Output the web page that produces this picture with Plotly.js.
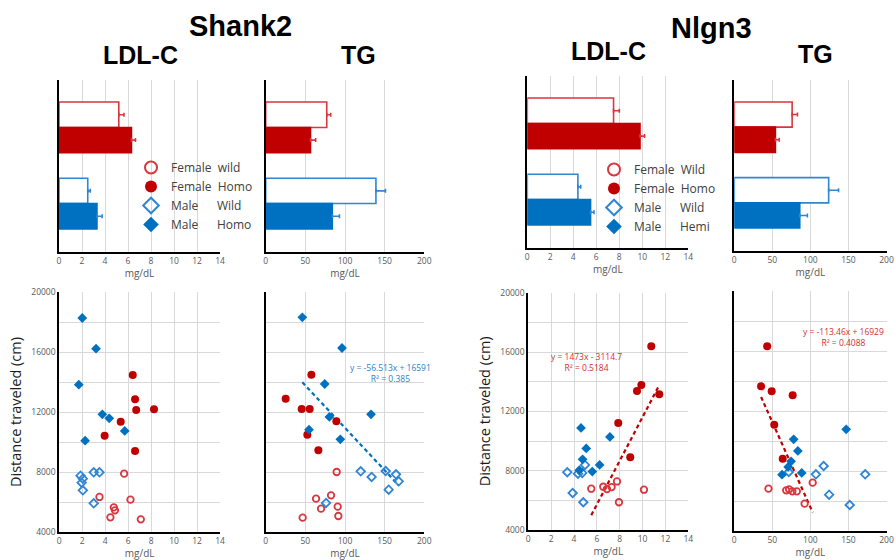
<!DOCTYPE html>
<html><head><meta charset="utf-8">
<script src="https://cdn.plot.ly/plotly-3.0.1.min.js"></script>
<style>html,body{margin:0;padding:0;background:#fff}</style>
</head><body>
<div id="chart" style="width:895px;height:560px"></div>
<script>
// ---------------- data ----------------
const shank2Groups = ['Female wild', 'Female Homo', 'Male Wild', 'Male Homo'];
const nlgn3Groups  = ['Female Wild', 'Female Homo', 'Male Wild', 'Male Hemi'];

// bar means and SEM (mg/dL), order = groups
const shank2LdlMean = [5.2, 6.3, 2.5, 3.3];
const shank2LdlErr  = [0.45, 0.35, 0.22, 0.45];
const shank2TgMean  = [77, 56.5, 139, 84];
const shank2TgErr   = [5, 6.5, 12, 9];
const nlgn3LdlMean  = [7.5, 9.8, 4.4, 5.5];
const nlgn3LdlErr   = [0.5, 0.4, 0.25, 0.3];
const nlgn3TgMean   = [76, 54, 124, 86];
const nlgn3TgErr    = [7, 5, 13, 10];

// Shank2 LDL-C vs distance
const s2LdlFwX = [5.65, 3.5, 6.2, 4.75, 4.85, 4.45, 7.1];
const s2LdlFwY = [7890, 6335, 6157, 5646, 5446, 4979, 4845];
const s2LdlFhX = [6.4, 6.6, 6.7, 8.25, 5.35, 3.95, 6.6];
const s2LdlFhY = [14467, 12845, 12134, 12178, 11356, 10423, 9401];
const s2LdlMwX = [1.85, 2.05, 3.0, 3.5, 1.95, 2.05, 3.0];
const s2LdlMwY = [7757, 7557, 7979, 7979, 7290, 6779, 5913];
const s2LdlMhX = [2.0, 3.2, 1.7, 3.75, 4.35, 5.7, 2.25];
const s2LdlMhY = [18267, 16223, 13823, 11845, 11578, 10734, 10090];

// Shank2 TG vs distance
const s2TgFwX = [89.5, 82.4, 63.5, 69.8, 90.8, 91.6, 46.6];
const s2TgFwY = [8000, 6445, 6224, 5557, 5690, 5068, 4957];
const s2TgFhX = [57.6, 25.2, 45.4, 55.5, 89.1, 52.5, 66.4];
const s2TgFhY = [14489, 12890, 12201, 12201, 11379, 10490, 9445];
const s2TgMwX = [119.8, 133.6, 151.3, 164.3, 167.7, 155.1, 76.1];
const s2TgMwY = [8045, 7668, 8067, 7845, 7379, 6824, 5935];
const s2TgMhX = [46.2, 96.2, 74.4, 80.3, 132.8, 54.6, 94.1];
const s2TgMhY = [18311, 16267, 13867, 11667, 11845, 10823, 10179];

// Nlgn3 LDL-C vs distance
const n3LdlFwX = [5.51, 6.56, 6.88, 7.29, 7.76, 7.93, 10.12];
const n3LdlFwY = [6783, 6917, 6761, 6894, 7273, 5871, 6717];
const n3LdlFhX = [10.76, 9.51, 9.89, 11.46, 7.87, 8.92];
const n3LdlFhY = [16396, 13370, 13770, 13147, 11211, 8897];
const n3LdlMwX = [3.41, 4.96, 4.72, 3.88, 4.81, 4.35];
const n3LdlMwY = [7896, 8386, 7850, 6494, 5871, 7800];
const n3LdlMhX = [4.61, 7.14, 5.07, 4.75, 6.24, 4.46, 5.60];
const n3LdlMhY = [10878, 10277, 9498, 8764, 8386, 8030, 7940];

// Nlgn3 TG vs distance
const n3TgFwX = [44.9, 68.2, 72.0, 76.3, 82.2, 103.0, 92.4];
const n3TgFwY = [6823, 6712, 6778, 6645, 6645, 7223, 5823];
const n3TgFhX = [43.2, 35.2, 49.1, 76.7, 52.5, 63.6];
const n3TgFhY = [16311, 13645, 13311, 13045, 11089, 8823];
const n3TgMwX = [117.4, 107.2, 172.0, 124.6, 151.7, 71.6];
const n3TgMwY = [8334, 7778, 7778, 6423, 5734, 7934];
const n3TgMhX = [147.0, 78.0, 83.5, 74.6, 70.8, 62.7, 88.6];
const n3TgMhY = [10778, 10112, 9334, 8645, 8267, 7756, 7867];

// linear trendlines shown in the figure: [slope, intercept]
const s2TgMaleTrend   = [-56.513, 16591];
const n3LdlFemaleTrend = [1473, -3114.7];
const n3TgFemaleTrend  = [-113.46, 16929];
const s2TgTrendText  = ['y = -56.513x + 16591', 'R² = 0.385'];
const n3LdlTrendText = ['y = 1473x - 3114.7', 'R² = 0.5184'];
const n3TgTrendText  = ['y = -113.46x + 16929', 'R² = 0.4088'];

const ldlTicks = [0, 2, 4, 6, 8, 10, 12, 14];
const tgTicks = [0, 50, 100, 150, 200];
const distTicks = [4000, 8000, 12000, 16000, 20000];

// ---------------- styling / layout helpers ----------------
const W = 895, H = 560;
const RED = '#C00000', BLUE = '#0070C0';
const RED_LIGHT = '#D9363E', BLUE_LIGHT = '#2E86D4';
const FONT = 'Open Sans, Noto Sans, sans-serif';
const TFONT = 'Liberation Sans, Arial, sans-serif';
const px = v => v / W;
const py = v => 1 - v / H;
const dx = (a, b) => [px(a), px(b)];
const dy = (top, bot) => [py(bot), py(top)];

// panel pixel boxes [left, right, top, bottom]
const boxes = {
  1: [59, 220, 80, 252], 2: [265.7, 424.3, 80, 252],
  3: [527.3, 688.3, 76, 248], 4: [734.3, 886.5, 80, 251],
  5: [59.3, 220, 292, 532], 6: [265.7, 424.3, 292, 532],
  7: [528.3, 688.3, 292.7, 530], 8: [734.3, 886.5, 291, 531]
};
// vertical slots of the bars (top to bottom, gap between sexes)
const slotOf = i => (i < 2 ? 4 - i : 3 - i);

const traces = [];

function barPanel(n, groups, means, errs) {
  const ax = n === 1 ? '' : String(n);
  const slots = groups.map((g, i) => slotOf(i));
  [[0, 1, RED, RED_LIGHT], [2, 3, BLUE, BLUE_LIGHT]].forEach(([a, b, c, cl]) => {
    traces.push({
      type: 'bar', orientation: 'h',
      x: [means[a], means[b]], y: [slots[a], slots[b]],
      width: 1, text: [groups[a], groups[b]], hoverinfo: 'text+x',
      textposition: 'none',
      marker: { color: ['#ffffff', c], line: { color: [cl, c], width: 1.6 } },
      error_x: { type: 'data', symmetric: false, array: [errs[a], errs[b]], arrayminus: [0, 0],
                 color: cl, thickness: 1.6, width: 2 },
      xaxis: 'x' + ax, yaxis: 'y' + ax, showlegend: false
    });
  });
}
barPanel(1, shank2Groups, shank2LdlMean, shank2LdlErr);
barPanel(2, shank2Groups, shank2TgMean, shank2TgErr);
barPanel(3, nlgn3Groups, nlgn3LdlMean, nlgn3LdlErr);
barPanel(4, nlgn3Groups, nlgn3TgMean, nlgn3TgErr);

const markerStyles = [
  { symbol: 'circle-open', size: 6.5, color: RED_LIGHT, line: { width: 1.8, color: RED_LIGHT } },
  { symbol: 'circle', size: 8, color: RED, line: { width: 0 } },
  { symbol: 'diamond-open', size: 6.5, color: BLUE_LIGHT, line: { width: 1.8, color: BLUE_LIGHT } },
  { symbol: 'diamond', size: 7.5, color: BLUE, line: { width: 0 } }
];
function legendLabel(name) {
  const parts = name.split(' ');
  const pad = 2 + (6 - parts[0].length) * 2;
  return parts[0] + '\u00A0'.repeat(pad) + parts[1];
}
function trendTrace(n, coef, xs, color) {
  const ax = String(n);
  const all = [].concat(...xs);
  const lo = Math.min(...all), hi = Math.max(...all);
  traces.push({
    type: 'scatter', mode: 'lines', x: [lo, hi], y: [coef[0] * lo + coef[1], coef[0] * hi + coef[1]],
    line: { color: color, width: 2.2, dash: '4px,3px' }, hoverinfo: 'skip',
    xaxis: 'x' + ax, yaxis: 'y' + ax, showlegend: false
  });
}
function scatterPanel(n, groups, xs, ys, legendId) {
  const ax = String(n);
  groups.forEach((g, i) => {
    traces.push({
      type: 'scatter', mode: 'markers', x: xs[i], y: ys[i], name: legendLabel(g),
      marker: markerStyles[i], xaxis: 'x' + ax, yaxis: 'y' + ax,
      legendgroup: legendId + g, showlegend: !!legendId, legend: legendId || 'legend'
    });
  });
}
scatterPanel(5, shank2Groups, [s2LdlFwX, s2LdlFhX, s2LdlMwX, s2LdlMhX], [s2LdlFwY, s2LdlFhY, s2LdlMwY, s2LdlMhY], 'legend');
trendTrace(6, s2TgMaleTrend, [s2TgMwX, s2TgMhX], BLUE);
scatterPanel(6, shank2Groups, [s2TgFwX, s2TgFhX, s2TgMwX, s2TgMhX], [s2TgFwY, s2TgFhY, s2TgMwY, s2TgMhY], null);
trendTrace(7, n3LdlFemaleTrend, [n3LdlFwX, n3LdlFhX], RED);
scatterPanel(7, nlgn3Groups, [n3LdlFwX, n3LdlFhX, n3LdlMwX, n3LdlMhX], [n3LdlFwY, n3LdlFhY, n3LdlMwY, n3LdlMhY], 'legend2');
trendTrace(8, n3TgFemaleTrend, [n3TgFwX, n3TgFhX], RED);
scatterPanel(8, nlgn3Groups, [n3TgFwX, n3TgFhX, n3TgMwX, n3TgMhX], [n3TgFwY, n3TgFhY, n3TgMwY, n3TgMhY], null);

const GRID = '#d9d9d9', TICKC = '#595959';
const tickFont = { family: FONT, size: 8.5, color: TICKC };
function xAxis(n, ticks) {
  const b = boxes[n];
  return {
    domain: dx(b[0], b[1]), anchor: 'y' + (n === 1 ? '' : n),
    range: [ticks[0], ticks[ticks.length - 1]], tickvals: ticks, ticks: '',
    ticklabeloverflow: 'allow',
    showgrid: true, gridcolor: GRID, gridwidth: 1, zeroline: false,
    showline: true, linecolor: '#000', linewidth: 2, tickfont: tickFont,
    title: { text: 'mg/dL', font: { family: FONT, size: 10, color: TICKC }, standoff: 3 },
    fixedrange: true
  };
}
function yBar(n) {
  const b = boxes[n];
  return {
    domain: dy(b[2], b[3]), anchor: 'x' + (n === 1 ? '' : n), range: [-1.41, 5.37],
    showticklabels: false, showgrid: false, zeroline: false, ticks: '',
    showline: true, linecolor: '#000', linewidth: 2, fixedrange: true
  };
}
function yScatter(n, labels) {
  const b = boxes[n];
  const ax = {
    domain: dy(b[2], b[3]), anchor: 'x' + n, range: [distTicks[0], distTicks[distTicks.length - 1]],
    tickvals: distTicks, tickformat: 'd', ticks: '', showticklabels: labels, tickfont: tickFont,
    showgrid: true, gridcolor: GRID, gridwidth: 1, zeroline: false,
    minor: { dtick: 2000, showgrid: true, gridcolor: GRID, gridwidth: 1, ticks: '' },
    showline: true, linecolor: '#000', linewidth: 2, fixedrange: true
  };
  if (labels) ax.title = { text: 'Distance traveled (cm)', font: { family: FONT, size: 14.5, color: '#1a1a1a' }, standoff: 6 };
  return ax;
}

const ann = [];
function txt(text, x, y, size, opts) {
  ann.push(Object.assign({
    text: text, xref: 'paper', yref: 'paper', x: px(x), y: py(y), xanchor: 'center', yanchor: 'middle',
    showarrow: false, font: { family: TFONT, size: size, color: '#000' }
  }, opts || {}));
}
txt('<b>Shank2</b>', 240.5, 26, 29);
txt('<b>Nlgn3</b>', 711.5, 28, 29);
txt('<b>LDL-C</b>', 140, 55, 25);
txt('<b>TG</b>', 358, 55, 25);
txt('<b>LDL-C</b>', 608.7, 51, 25);
txt('<b>TG</b>', 815, 54, 25);
const eqOpts = c => ({ font: { family: FONT, size: 8.5, color: c }, align: 'center', borderpad: 0 });
txt(s2TgTrendText.join('<br>'), 390, 373, 8.5, eqOpts('#2E7FCC'));
txt(n3LdlTrendText.join('<br>'), 586, 362, 8.5, eqOpts('#D03030'));
txt(n3TgTrendText.join('<br>'), 843, 336.5, 8.5, eqOpts('#D03030'));

const legendBase = {
  bgcolor: 'rgba(0,0,0,0)', borderwidth: 0, itemsizing: 'constant', itemclick: false, itemdoubleclick: false,
  font: { family: FONT, size: 12, color: '#404040' }, xanchor: 'left', yanchor: 'top', tracegroupgap: 0
};

const layout = {
  width: W, height: H, margin: { l: 0, r: 0, t: 0, b: 0 },
  paper_bgcolor: '#fff', plot_bgcolor: '#fff', showlegend: true,
  legend: Object.assign({}, legendBase, { x: px(131), y: py(153) }),
  legend2: Object.assign({}, legendBase, { x: px(594), y: py(155) }),
  xaxis: xAxis(1, ldlTicks), yaxis: yBar(1),
  xaxis2: xAxis(2, tgTicks), yaxis2: yBar(2),
  xaxis3: xAxis(3, ldlTicks), yaxis3: yBar(3),
  xaxis4: xAxis(4, tgTicks), yaxis4: yBar(4),
  xaxis5: xAxis(5, ldlTicks), yaxis5: yScatter(5, true),
  xaxis6: xAxis(6, tgTicks), yaxis6: yScatter(6, false),
  xaxis7: xAxis(7, ldlTicks), yaxis7: yScatter(7, true),
  xaxis8: xAxis(8, tgTicks), yaxis8: yScatter(8, false),
  annotations: ann
};

Plotly.newPlot('chart', traces, layout, { displayModeBar: false, staticPlot: true });
</script>
</body></html>
